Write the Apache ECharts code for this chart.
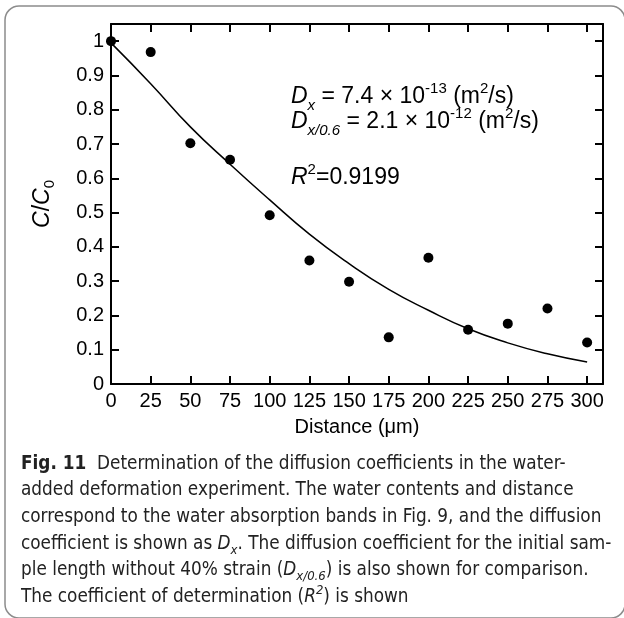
<!DOCTYPE html>
<html>
<head>
<meta charset="utf-8">
<script src="https://cdn.jsdelivr.net/npm/echarts@6/dist/echarts.min.js"></script>
<style>
    html, body { margin: 0; padding: 0; background: #fff; }
    #chart { width: 624px; height: 618px; }
</style>
</head>
<body>
<div id="chart"></div>
<script>
// values
const distance = [0, 25, 50, 75, 100, 125, 150, 175, 200, 225, 250, 275, 300];
const measured = [1.0, 0.968, 0.702, 0.654, 0.492, 0.360, 0.298, 0.136, 0.368, 0.158, 0.176, 0.220, 0.121];
const fitted = [0.995, 0.876, 0.750, 0.641, 0.537, 0.437, 0.351, 0.276, 0.215, 0.161, 0.120, 0.088, 0.064];
const xTicks = [0, 25, 50, 75, 100, 125, 150, 175, 200, 225, 250, 275, 300];
const yTicks = [0, 0.1, 0.2, 0.3, 0.4, 0.5, 0.6, 0.7, 0.8, 0.9, 1];

const captionLines = [
    '{b|Fig. 11}  Determination of the diffusion coefficients in the water-',
    'added deformation experiment. The water contents and distance',
    'correspond to the water absorption bands in Fig. {blue|9}, and the diffusion',
    'coefficient is shown as {i|D}{sub|x}. The diffusion coefficient for the initial sam-',
    'ple length without 40% strain ({i|D}{sub|x/0.6}) is also shown for comparison.',
    'The coefficient of determination ({i|R}{sup|2}) is shown'
];

const FONT = "'Liberation Sans', Arial, sans-serif";
const CAP_FONT = "'Liberation Sans Narrow', 'DejaVu Sans Condensed', sans-serif";
const CAP_SIZE = 18.8;

function axisLook(ticks, showLabels) {
    return {
        axisLine: { show: true, onZero: false, lineStyle: { color: '#000', width: 2 } },
        axisTick: { show: true, inside: true, length: 8, customValues: ticks,
            lineStyle: { color: '#000', width: 2 } },
        axisLabel: { show: showLabels, customValues: ticks, color: '#000',
            fontSize: 20, fontFamily: FONT, margin: 7 },
        splitLine: { show: false }
    };
}

function initChart() {
    const chart = echarts.init(document.getElementById('chart'));

    const annoRich = {
        i: { fontStyle: 'italic', fontSize: 23, lineHeight: 32, fontFamily: FONT, color: '#000' },
        n: { fontSize: 23, lineHeight: 32, fontFamily: FONT, color: '#000' },
        sup: { fontSize: 15, lineHeight: 15, verticalAlign: 'top', fontFamily: FONT, color: '#000' },
        sub: { fontSize: 15, lineHeight: 20, verticalAlign: 'bottom', fontStyle: 'italic', fontFamily: FONT, color: '#000' }
    };

    const capRich = {
        b: { fontWeight: 'bold', fontSize: CAP_SIZE, lineHeight: 26, fontFamily: CAP_FONT, color: '#222' },
        blue: { fontSize: CAP_SIZE, lineHeight: 26, fontFamily: CAP_FONT, color: '#2a5fd6' },
        i: { fontStyle: 'italic', fontSize: CAP_SIZE, lineHeight: 26, fontFamily: CAP_FONT, color: '#222' },
        sub: { fontStyle: 'italic', fontSize: 13, lineHeight: 18, verticalAlign: 'bottom', fontFamily: CAP_FONT, color: '#222' },
        sup: { fontStyle: 'italic', fontSize: 13, lineHeight: 13, verticalAlign: 'top', fontFamily: CAP_FONT, color: '#222' }
    };

    const graphics = [
        {
            type: 'rect', silent: true,
            shape: { x: 5, y: 6, width: 620, height: 612, r: 14 },
            style: { fill: 'transparent', stroke: '#8c8c8c', lineWidth: 1.5 }
        },
        {
            type: 'text', x: 291, y: 97,
            style: {
                text: '{i|D}{sub|x}{n| = 7.4 × 10}{sup|-13}{n| (m}{sup|2}{n|/s)}',
                rich: annoRich, verticalAlign: 'middle'
            }
        },
        {
            type: 'text', x: 291, y: 122,
            style: {
                text: '{i|D}{sub|x/0.6}{n| = 2.1 × 10}{sup|-12}{n| (m}{sup|2}{n|/s)}',
                rich: annoRich, verticalAlign: 'middle'
            }
        },
        {
            type: 'text', x: 291, y: 178,
            style: {
                text: '{i|R}{sup|2}{n|=0.9199}',
                rich: annoRich, verticalAlign: 'middle'
            }
        }
    ];

    captionLines.forEach((line, k) => {
        graphics.push({
            type: 'text', x: 21, y: 464 + k * 26.6,
            style: {
                text: line, rich: capRich, verticalAlign: 'middle',
                fontSize: CAP_SIZE, fontFamily: CAP_FONT, fill: '#222'
            }
        });
    });

    const option = {
        animation: false,
        backgroundColor: '#fff',
        grid: { left: 111, top: 24, width: 492, height: 360 },
        xAxis: [
            Object.assign({
                type: 'value', min: 0, max: 310, position: 'bottom',
                name: 'Distance (μm)', nameLocation: 'middle', nameGap: 33,
                nameTextStyle: { color: '#000', fontSize: 20, fontFamily: FONT }
            }, axisLook(xTicks, true)),
            Object.assign({ type: 'value', min: 0, max: 310, position: 'top' }, axisLook(xTicks, false))
        ],
        yAxis: [
            Object.assign({
                type: 'value', min: 0, max: 1.05, position: 'left',
                name: '{i|C}/{i|C}{sub|0}', nameLocation: 'middle', nameGap: 54, nameRotate: 90,
                nameTextStyle: {
                    color: '#000', fontSize: 23, fontFamily: FONT,
                    rich: {
                        i: { fontStyle: 'italic', fontSize: 23, lineHeight: 28, fontFamily: FONT, color: '#000' },
                        sub: { fontSize: 15, lineHeight: 18, verticalAlign: 'bottom', fontFamily: FONT, color: '#000' }
                    }
                }
            }, axisLook(yTicks, true)),
            Object.assign({ type: 'value', min: 0, max: 1.05, position: 'right' }, axisLook(yTicks, false))
        ],
        series: [
            {
                name: 'fit', type: 'line', smooth: true,
                showSymbol: false, z: 2,
                data: distance.map((d, i) => [d, fitted[i]]),
                lineStyle: { color: '#000', width: 1.5 }
            },
            {
                name: 'measured', type: 'scatter', symbolSize: 10, z: 3,
                data: distance.map((d, i) => [d, measured[i]]),
                itemStyle: { color: '#000', opacity: 1 }
            }
        ],
        graphic: graphics
    };

    chart.setOption(option);
}

document.addEventListener('DOMContentLoaded', initChart);
</script>
</body>
</html>
